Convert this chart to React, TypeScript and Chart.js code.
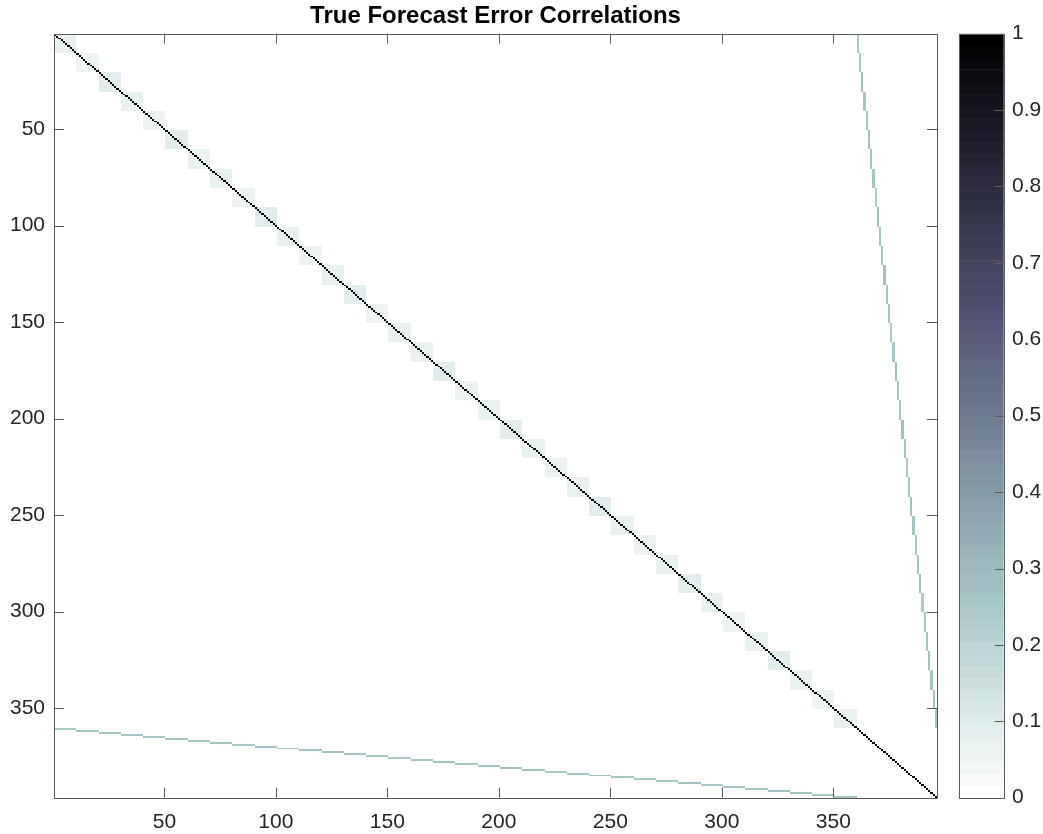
import React, { useEffect, useRef } from "react";
import { Chart, registerables } from "chart.js";

Chart.register(...registerables);

// ---------------- data ----------------
const TITLE = "True Forecast Error Correlations";
const N_FINE = 360; // fine-resolution variables
const GROUP_SIZE = 10; // fine variables per group
const N_COARSE = 36; // coarse variables (one per group)
const N = N_FINE + N_COARSE; // 396 variables in total
const DIAG_CORR = 1;

const xTickValues = [50, 100, 150, 200, 250, 300, 350];
const yTickValues = [50, 100, 150, 200, 250, 300, 350];
const colorbarTicks = [0, 0.1, 0.2, 0.3, 0.4, 0.5, 0.6, 0.7, 0.8, 0.9, 1];

// within-group correlation of fine variables (faint squares along the diagonal)
const blockCorr = [
  0.07, 0.06, 0.08, 0.07, 0.06, 0.08, 0.07, 0.07, 0.06, 0.08, 0.07, 0.06,
  0.07, 0.08, 0.06, 0.07, 0.07, 0.08, 0.06, 0.07, 0.08, 0.07, 0.06, 0.07,
  0.08, 0.07, 0.06, 0.07, 0.08, 0.07, 0.06, 0.07, 0.08, 0.07, 0.06, 0.07,
];

// correlation of coarse variable k with the fine variables of group k
const couplingCorr = [
  0.24, 0.26, 0.27, 0.25, 0.26, 0.27, 0.25, 0.26, 0.24, 0.27, 0.26, 0.25,
  0.27, 0.26, 0.25, 0.24, 0.26, 0.27, 0.25, 0.26, 0.27, 0.26, 0.24, 0.25,
  0.27, 0.26, 0.25, 0.26, 0.27, 0.24, 0.26, 0.25, 0.27, 0.26, 0.25, 0.26,
];

// ---------------- colormap: flipud(bone(64)) ----------------
const CMAP_N = 64;
function buildColormap(): string[] {
  const m = CMAP_N;
  const n = Math.floor((3 / 8) * m); // 24
  const bone: number[][] = [];
  for (let j = 0; j < m; j++) {
    const g = j / (m - 1);
    const hr = j < n ? (j + 1) / n : 1;
    const hg = j < n ? 0 : j < 2 * n ? (j - n + 1) / n : 1;
    const hb = j < 2 * n ? 0 : (j - 2 * n + 1) / (m - 2 * n);
    bone.push([(7 * g + hb) / 8, (7 * g + hg) / 8, (7 * g + hr) / 8]);
  }
  const out: string[] = [];
  for (let i = 0; i < m; i++) {
    const c = bone[m - 1 - i];
    out.push(
      `rgb(${Math.round(c[0] * 255)},${Math.round(c[1] * 255)},${Math.round(c[2] * 255)})`
    );
  }
  return out;
}
const CMAP = buildColormap();
const colorFor = (v: number) =>
  CMAP[Math.max(0, Math.min(CMAP_N - 1, Math.floor(v * CMAP_N)))];

function corrAt(i: number, j: number): number {
  if (i === j) return DIAG_CORR;
  const ci = i >= N_FINE;
  const cj = j >= N_FINE;
  if (!ci && !cj) {
    const gi = Math.floor(i / GROUP_SIZE);
    const gj = Math.floor(j / GROUP_SIZE);
    return gi === gj ? blockCorr[gi] : 0;
  }
  if (ci && !cj) {
    const k = i - N_FINE;
    return Math.floor(j / GROUP_SIZE) === k ? couplingCorr[k] : 0;
  }
  if (!ci && cj) {
    const k = j - N_FINE;
    return Math.floor(i / GROUP_SIZE) === k ? couplingCorr[k] : 0;
  }
  return 0;
}

const FONT = "'Liberation Sans', Arial, Helvetica, sans-serif";
const TEXT_COLOR = "#262626";
const BOX_COLOR = "#5c5c5c";
const TICK_LEN = 10;

// ---------------- plugins ----------------
const heatmapPlugin = {
  id: "heatmap",
  beforeDatasetsDraw(chart: any) {
    const { ctx } = chart;
    const xs = chart.scales.x;
    const ys = chart.scales.y;
    const xEdge: number[] = [];
    const yEdge: number[] = [];
    for (let k = 0; k <= N; k++) {
      xEdge.push(Math.round(xs.getPixelForValue(k + 0.5)));
      yEdge.push(Math.round(ys.getPixelForValue(k + 0.5)));
    }
    ctx.save();
    for (let i = 0; i < N; i++) {
      for (let j = 0; j < N; j++) {
        const v = corrAt(i, j);
        if (v <= 0) continue;
        ctx.fillStyle = colorFor(v);
        ctx.fillRect(xEdge[j], yEdge[i], xEdge[j + 1] - xEdge[j], yEdge[i + 1] - yEdge[i]);
      }
    }
    ctx.restore();
  },
  afterDraw(chart: any) {
    const { ctx, chartArea: a } = chart;
    const xs = chart.scales.x;
    const ys = chart.scales.y;
    ctx.save();
    ctx.strokeStyle = BOX_COLOR;
    ctx.lineWidth = 1;
    ctx.beginPath();
    for (const v of xTickValues) {
      const px = Math.round(xs.getPixelForValue(v)) + 0.5;
      ctx.moveTo(px, a.bottom);
      ctx.lineTo(px, a.bottom - TICK_LEN);
      ctx.moveTo(px, a.top);
      ctx.lineTo(px, a.top + TICK_LEN);
    }
    for (const v of yTickValues) {
      const py = Math.round(ys.getPixelForValue(v)) + 0.5;
      ctx.moveTo(a.left, py);
      ctx.lineTo(a.left + TICK_LEN, py);
      ctx.moveTo(a.right, py);
      ctx.lineTo(a.right - TICK_LEN, py);
    }
    ctx.stroke();
    ctx.strokeRect(
      Math.round(a.left) + 0.5,
      Math.round(a.top) + 0.5,
      Math.round(a.right) - Math.round(a.left),
      Math.round(a.bottom) - Math.round(a.top)
    );
    ctx.restore();
  },
};

const colorbarFramePlugin = {
  id: "cbframe",
  afterDraw(chart: any) {
    const { ctx, chartArea: a } = chart;
    const ys = chart.scales.y;
    ctx.save();
    ctx.strokeStyle = BOX_COLOR;
    ctx.lineWidth = 1;
    ctx.beginPath();
    for (const v of colorbarTicks) {
      const py = Math.round(ys.getPixelForValue(v)) + 0.5;
      ctx.moveTo(a.right, py);
      ctx.lineTo(a.right - 9, py);
    }
    ctx.stroke();
    ctx.strokeRect(
      Math.round(a.left) + 0.5,
      Math.round(a.top) + 0.5,
      Math.round(a.right) - Math.round(a.left),
      Math.round(a.bottom) - Math.round(a.top)
    );
    ctx.restore();
  },
};

// ---------------- component ----------------
export default function App() {
  const mainRef = useRef<HTMLCanvasElement | null>(null);
  const cbRef = useRef<HTMLCanvasElement | null>(null);

  useEffect(() => {
    if (!mainRef.current || !cbRef.current) return;
    const tickFont = { family: FONT, size: 21 };

    const main = new Chart(mainRef.current, {
      type: "scatter",
      data: { datasets: [{ data: [] as any[] }] },
      plugins: [heatmapPlugin],
      options: {
        animation: false,
        responsive: false,
        maintainAspectRatio: false,
        layout: { padding: { left: 0, right: 8, top: 0, bottom: 0 } },
        plugins: {
          legend: { display: false },
          tooltip: { enabled: false },
          title: {
            display: true,
            fullSize: false,
            text: TITLE,
            color: "#000",
            font: { family: FONT, size: 24, weight: "bold" },
            padding: { top: 2.45, bottom: 2.45 },
          },
        },
        scales: {
          x: {
            type: "linear",
            position: "bottom",
            min: 0.5,
            max: N + 0.5,
            grid: { display: false, drawTicks: false },
            border: { display: false },
            ticks: { font: tickFont, color: TEXT_COLOR, padding: 12, maxRotation: 0 },
            afterBuildTicks: (s: any) => {
              s.ticks = xTickValues.map((v) => ({ value: v }));
            },
            afterFit: (s: any) => {
              s.height = 36.3;
            },
          },
          y: {
            type: "linear",
            position: "left",
            reverse: true,
            min: 0.5,
            max: N + 0.5,
            grid: { display: false, drawTicks: false },
            border: { display: false },
            ticks: { font: tickFont, color: TEXT_COLOR, padding: 9 },
            afterBuildTicks: (s: any) => {
              s.ticks = yTickValues.map((v) => ({ value: v }));
            },
            afterFit: (s: any) => {
              s.width = 54;
            },
          },
        },
      } as any,
    });

    const cb = new Chart(cbRef.current, {
      type: "bar",
      data: {
        labels: [""],
        datasets: CMAP.map((c, k) => ({
          data: [[k / CMAP_N, (k + 1) / CMAP_N]] as any,
          backgroundColor: c,
          borderWidth: 0,
          barPercentage: 1,
          categoryPercentage: 1,
          grouped: false,
        })) as any,
      },
      plugins: [colorbarFramePlugin],
      options: {
        animation: false,
        responsive: false,
        maintainAspectRatio: false,
        layout: { padding: { left: 9.3, right: 0, top: 33.7, bottom: 36.3 } },
        plugins: { legend: { display: false }, tooltip: { enabled: false }, title: { display: false } },
        scales: {
          x: { display: false },
          y: {
            position: "right",
            min: 0,
            max: 1,
            grid: { display: false, drawTicks: false },
            border: { display: false },
            ticks: {
              font: tickFont,
              color: TEXT_COLOR,
              padding: 8.3,
              callback: (v: any) => (v === 0 || v === 1 ? String(v) : Number(v).toFixed(1)),
            },
            afterBuildTicks: (s: any) => {
              s.ticks = colorbarTicks.map((v) => ({ value: v }));
            },
            afterFit: (s: any) => {
              s.width = 39.3;
            },
          },
        },
      } as any,
    });

    return () => {
      main.destroy();
      cb.destroy();
    };
  }, []);

  return (
    <div style={{ position: "absolute", left: 0, top: 0, width: 1043, height: 834, background: "#fff" }}>
      <canvas
        ref={mainRef}
        width={945}
        height={834}
        style={{ position: "absolute", left: 0, top: 0, width: 945, height: 834 }}
      />
      <canvas
        ref={cbRef}
        width={93}
        height={834}
        style={{ position: "absolute", left: 950, top: 0, width: 93, height: 834 }}
      />
    </div>
  );
}
